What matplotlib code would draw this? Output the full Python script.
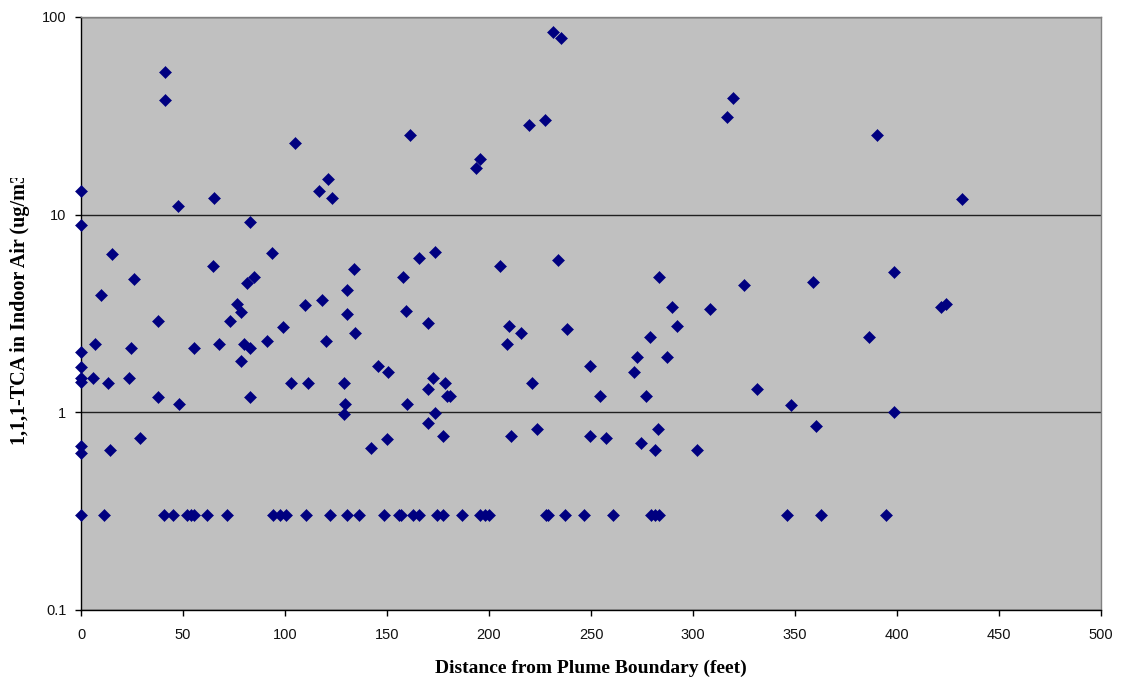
import matplotlib
matplotlib.use("Agg")
import matplotlib.pyplot as plt
from matplotlib.transforms import Bbox, TransformedBbox
from matplotlib.ticker import FixedLocator, NullLocator, FixedFormatter

# Distance from plume boundary (feet)
distance_ft = [
    0, 0, 0, 0, 0, 0, 0, 0, 0,
    6, 7, 9.8, 11.3, 13, 14.2, 15, 23.5, 24.5, 25.8, 28.9,
    37.5, 37.7, 40.9, 41, 41, 45.3, 47.5, 48, 51.8, 53.8,
    55.3, 55.4, 61.6, 64.6, 65, 67.5, 71.4, 73, 76.3, 78.3,
    78.3, 79.7, 81.3, 82.7, 82.7, 82.7, 84.8, 91, 93.4, 94.2,
    97.4, 98.8, 100.7, 105, 110, 110.2, 116.5, 118, 120, 121.3,
    122.2, 122.8, 102.7, 111.5, 129, 129.5, 129, 130.5, 130.6, 130.6,
    134, 134.4, 136.5, 142.4, 145.5, 148.7, 150, 150.7, 155.7, 156.9,
    158, 159.3, 159.8, 161.4, 162.9, 165.9, 165.9, 170.3, 170.3, 170.3,
    172.4, 173.4, 173.5, 174.3, 177.3, 177.6, 178.4, 179.4, 181, 187,
    193.6, 195.5, 195.7, 198, 200.1, 205.5, 208.8, 209.9, 211, 215.6,
    219.7, 221, 223.6, 227.3, 227.8, 229.1, 231.6, 233.9, 235.2, 237.3,
    238.4, 246.6, 249.5, 249.5, 254.4, 257.2, 260.8, 271, 272.4, 274.3,
    276.8, 278.7, 279.2, 281.3, 281.6, 282.9, 283.3, 283.4, 287.3, 289.8,
    292.2, 302, 308.3, 316.5, 319.5, 325.2, 331.4, 346.2, 348.2, 359,
    360.4, 362.6, 386.5, 390.3, 394.5, 398.3, 398.5, 421.4, 424, 432,
]

# 1,1,1-TCA concentration in indoor air (ug/m3)
tca_ugm3 = [
    13.1, 8.8, 2.02, 1.69, 1.49, 1.42, 0.67, 0.62, 0.3,
    1.49, 2.21, 3.93, 0.3, 1.40, 0.64, 6.3, 1.49, 2.11, 4.73, 0.74,
    2.9, 1.19, 0.3, 52.6, 37.9, 0.3, 11.0, 1.10, 0.3, 0.3,
    2.11, 0.3, 0.3, 5.5, 12.1, 2.21, 0.3, 2.89, 3.53, 3.21,
    1.81, 2.21, 4.5, 9.2, 2.11, 1.19, 4.8, 2.29, 6.4, 0.3,
    0.3, 2.70, 0.3, 22.9, 3.49, 0.3, 13.1, 3.7, 2.29, 15.1,
    0.3, 12.1, 1.41, 1.41, 1.41, 1.10, 0.98, 0.3, 4.16, 3.14,
    5.3, 2.51, 0.3, 0.66, 1.71, 0.3, 0.727, 1.60, 0.3, 0.3,
    4.8, 3.23, 1.10, 25.2, 0.3, 6.0, 0.3, 2.82, 1.30, 0.876,
    1.49, 6.47, 0.985, 0.3, 0.755, 0.3, 1.41, 1.20, 1.20, 0.3,
    17.1, 0.3, 19.0, 0.3, 0.3, 5.51, 2.21, 2.71, 0.755, 2.51,
    28.3, 1.41, 0.82, 30.1, 0.3, 0.3, 83.6, 5.91, 78.2, 0.3,
    2.63, 0.3, 1.71, 0.755, 1.20, 0.735, 0.3, 1.60, 1.90, 0.70,
    1.20, 2.41, 0.3, 0.3, 0.64, 0.817, 0.3, 4.8, 1.90, 3.42,
    2.71, 0.64, 3.32, 31.3, 39.1, 4.40, 1.31, 0.3, 1.09, 4.53,
    0.85, 0.3, 2.39, 25.2, 0.3, 0.996, 5.1, 3.42, 3.53, 12.0,
]

x_ticks = [0, 50, 100, 150, 200, 250, 300, 350, 400, 450, 500]
y_ticks = [0.1, 1, 10, 100]
y_tick_labels = ["0.1", "1", "10", "100"]
x_label = "Distance from Plume Boundary (feet)"
y_label = "1,1,1-TCA in Indoor Air (ug/m3)"

W, H = 1121, 679
fig = plt.figure(figsize=(W / 100, H / 100), dpi=100)
fig.patch.set_facecolor("white")

left, right, top, bottom = 81, 1101, 17, 609.5
ax = fig.add_axes([left / W, (H - bottom) / H, (right - left) / W, (bottom - top) / H])
ax.set_facecolor("#C0C0C0")

ax.set_yscale("log")
ax.set_xlim(0, 500)
ax.set_ylim(0.1, 100)

ax.yaxis.set_major_locator(FixedLocator(y_ticks))
ax.yaxis.set_major_formatter(FixedFormatter(y_tick_labels))
ax.yaxis.set_minor_locator(NullLocator())
ax.xaxis.set_major_locator(FixedLocator(x_ticks))
ax.xaxis.set_minor_locator(NullLocator())

ax.grid(axis="y", which="major", color="#202020", linewidth=1.0)
ax.set_axisbelow(True)

ax.plot(distance_ft, tca_ugm3, linestyle="none", marker="D", markersize=6.6,
        markerfacecolor="#000080", markeredgecolor="#000080", markeredgewidth=0.4,
        clip_on=False, zorder=3)

for s in ["left", "bottom"]:
    ax.spines[s].set_color("black")
    ax.spines[s].set_linewidth(1.0)
for s in ["top", "right"]:
    ax.spines[s].set_color("#808080")
    ax.spines[s].set_linewidth(1.0)

ax.tick_params(axis="both", which="major", direction="out", length=4.5, width=1,
               color="black", labelsize=10.5, labelcolor="#111111")
ax.tick_params(axis="y", pad=6)
ax.tick_params(axis="x", pad=9)
for lab in ax.get_xticklabels() + ax.get_yticklabels():
    lab.set_family("Liberation Sans")

fig.text((left + right) / 2 / W, (H - 668) / H, x_label, ha="center", va="center",
         family="Liberation Serif", fontweight="bold", fontsize=14)

t = fig.text(20 / W, (H - 445) / H, y_label, rotation=90, ha="center", va="bottom",
             family="Liberation Serif", fontweight="bold", fontsize=14.5)
clip = TransformedBbox(Bbox([[0, 0], [1, (H - 178) / H]]), fig.transFigure)
t.set_clip_box(clip)
t.set_clip_on(True)

fig.savefig("out.png", dpi=100, facecolor="white")
